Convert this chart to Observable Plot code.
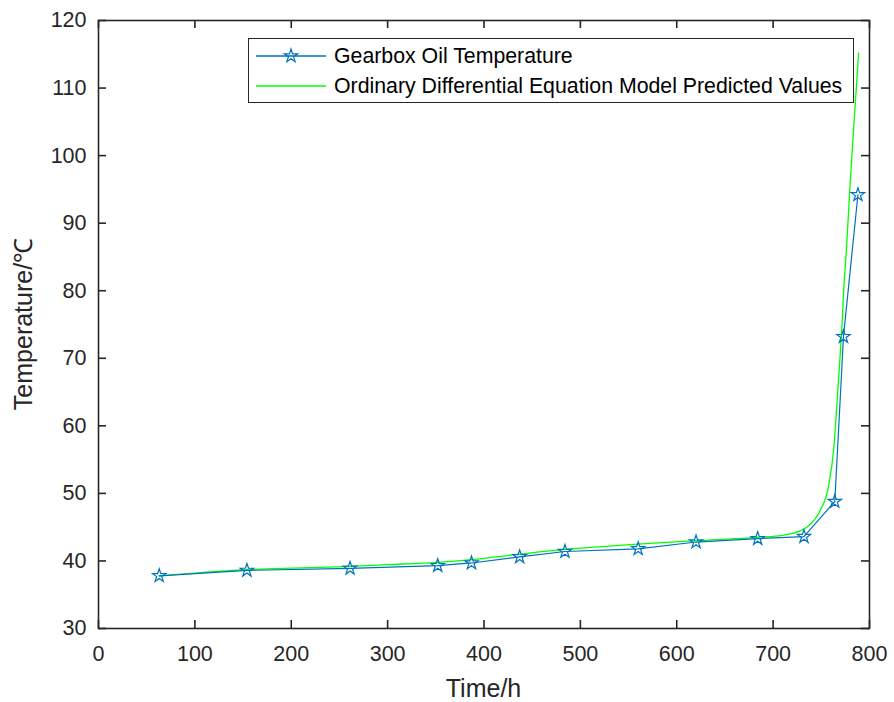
<!DOCTYPE html>
<html>
<head>
<meta charset="utf-8">
<script src="https://cdn.jsdelivr.net/npm/d3@7"></script>
<script src="https://cdn.jsdelivr.net/npm/@observablehq/plot@0.6"></script>
<style>
  html, body { margin: 0; padding: 0; background: #fff; }
  #chart { position: relative; width: 894px; height: 702px; }
</style>
</head>
<body>
<div id="chart"></div>
<script>
// Observed gearbox oil temperature
const timeObs = [63, 154, 261, 352, 387, 437, 484, 560, 620, 684, 732, 764, 773, 788];
const tempObs = [37.8, 38.6, 38.9, 39.3, 39.7, 40.6, 41.4, 41.8, 42.8, 43.3, 43.6, 48.8, 73.2, 94.2];

// ODE model predicted values
const timePred = [63, 100, 154, 200, 261, 300, 352, 387, 437, 484, 560, 620, 684, 710, 725, 735, 749, 757, 763, 766, 769, 771.5, 773, 776, 780, 784, 788.7];
const tempPred = [37.8, 38.2, 38.7, 38.95, 39.2, 39.45, 39.8, 40.2, 41.0, 41.7, 42.5, 43.0, 43.5, 43.8, 44.3, 45.0, 47.5, 50.7, 56.8, 62.8, 69.2, 75.0, 79.5, 86.0, 96.0, 105.0, 115.2];

const xTicks = [0, 100, 200, 300, 400, 500, 600, 700, 800];
const yTicks = [30, 40, 50, 60, 70, 80, 90, 100, 110, 120];

const seriesNames = ["Gearbox Oil Temperature", "Ordinary Differential Equation Model Predicted Values"];
const xLabel = "Time/h";
const yLabel = "Temperature/℃";

const obs = timeObs.map((t, i) => ({t, v: tempObs[i]}));
const pred = timePred.map((t, i) => ({t, v: tempPred[i]}));

const blue = "#0072BD";
const green = "#00FF00";
const axisColor = "#262626";

const W = 894, H = 702;
const mL = 98, mR = 25, mT = 20, mB = 74;
const innerW = W - mL - mR, innerH = H - mT - mB;
const tk = 8; // inward tick length
const ff = "'Liberation Sans', Arial, Helvetica, sans-serif";

const plot = Plot.plot({
  width: W,
  height: H,
  marginLeft: mL,
  marginRight: mR,
  marginTop: mT,
  marginBottom: mB,
  style: {fontFamily: ff, fontSize: "21.5px", color: axisColor, background: "#fff"},
  x: {domain: [0, 800], ticks: xTicks},
  y: {domain: [30, 120], ticks: yTicks},
  marks: [
    Plot.lineY(pred, {x: "t", y: "v", stroke: green, strokeWidth: 1.3, curve: "monotone-x"}),
    Plot.lineY(obs, {x: "t", y: "v", stroke: blue, strokeWidth: 1.2}),
    Plot.dot(obs, {x: "t", y: "v", symbol: "star", r: 4.2, stroke: blue, fill: "none", strokeWidth: 1.2}),
    // tick labels
    Plot.axisX({ticks: xTicks, tickSize: 0, tickPadding: 17, label: null, fontSize: 21.5, stroke: "none"}),
    Plot.axisY({ticks: yTicks, tickSize: 0, tickPadding: 12, label: null, fontSize: 21.5, stroke: "none"}),
    // inward ticks on all four sides
    Plot.tickX(xTicks, {x: d => d, insetTop: innerH - tk, stroke: axisColor, strokeWidth: 1.6}),
    Plot.tickX(xTicks, {x: d => d, insetBottom: innerH - tk, stroke: axisColor, strokeWidth: 1.6}),
    Plot.tickY(yTicks, {y: d => d, insetRight: innerW - tk, stroke: axisColor, strokeWidth: 1.6}),
    Plot.tickY(yTicks, {y: d => d, insetLeft: innerW - tk, stroke: axisColor, strokeWidth: 1.6}),
    Plot.frame({stroke: axisColor, strokeWidth: 1.6})
  ]
});

document.getElementById("chart").appendChild(plot);

// axis titles and legend appended into the SVG
const svg = d3.select(plot);

svg.append("text")
  .attr("x", (mL + W - mR) / 2).attr("y", 697)
  .attr("text-anchor", "middle")
  .attr("font-family", ff).attr("font-size", 25).attr("fill", axisColor)
  .text(xLabel);

svg.append("text")
  .attr("transform", `translate(32, ${(mT + H - mB) / 2}) rotate(-90)`)
  .attr("text-anchor", "middle")
  .attr("font-family", ff).attr("font-size", 25).attr("fill", axisColor)
  .text(yLabel);

const lg = svg.append("g");
lg.append("rect")
  .attr("x", 248.5).attr("y", 38.5).attr("width", 605).attr("height", 64)
  .attr("fill", "#fff").attr("stroke", axisColor).attr("stroke-width", 1);
const rows = [
  {y: 56, color: blue, marker: true},
  {y: 86, color: green, marker: false}
];
rows.forEach((r, i) => {
  lg.append("line")
    .attr("x1", 256).attr("x2", 326).attr("y1", r.y).attr("y2", r.y)
    .attr("stroke", r.color).attr("stroke-width", 1.3);
  if (r.marker) {
    lg.append("path")
      .attr("d", d3.symbol(d3.symbolStar, Math.PI * 4.2 * 4.2)())
      .attr("transform", `translate(291, ${r.y})`)
      .attr("fill", "none").attr("stroke", r.color).attr("stroke-width", 1.2);
  }
  lg.append("text")
    .attr("x", 334).attr("y", r.y).attr("dy", "0.35em")
    .attr("text-anchor", "start")
    .attr("font-family", ff).attr("font-size", 21.3).attr("fill", "#000")
    .text(seriesNames[i]);
});
</script>
</body>
</html>
